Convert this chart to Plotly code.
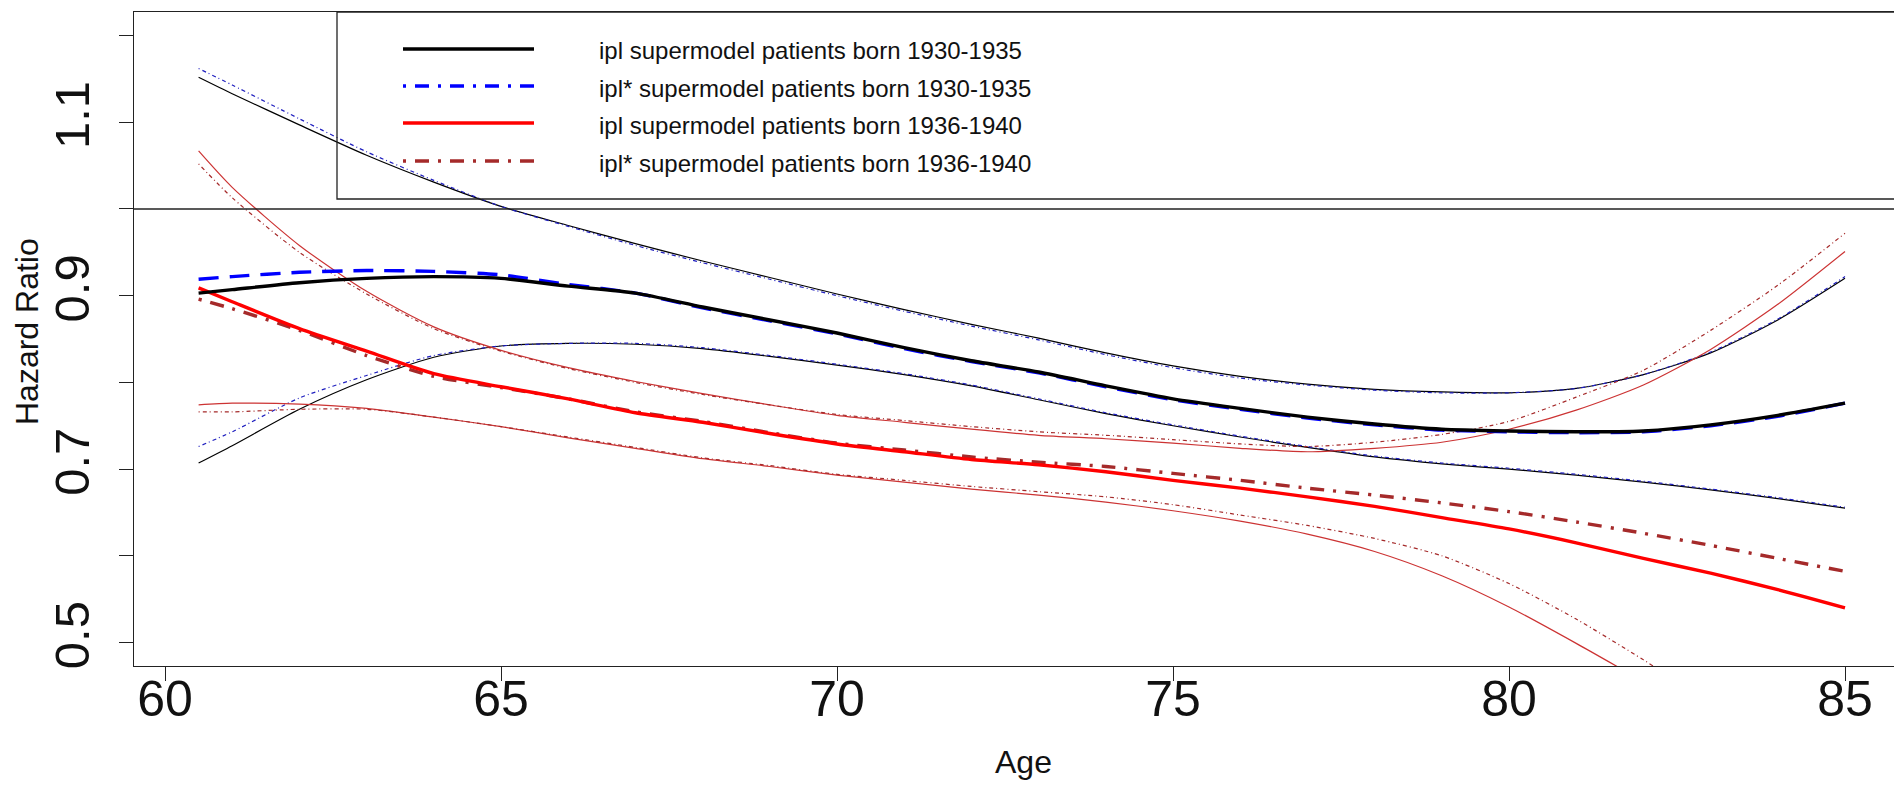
import plotly.graph_objects as go

ages = [60.5, 61, 62, 63, 64, 65, 66, 67, 68, 69, 70, 71, 72, 73, 74, 75, 76, 77, 78, 79, 80, 81, 82, 83, 84, 85]

# ipl supermodel, patients born 1930-1935 (estimate and CI)
ipl_30_est = [0.903, 0.907, 0.915, 0.920, 0.922, 0.920, 0.911, 0.903, 0.887, 0.872, 0.857, 0.840, 0.825, 0.812, 0.796, 0.781, 0.770, 0.760, 0.752, 0.746, 0.744, 0.743, 0.744, 0.751, 0.762, 0.776]
ipl_30_up = [1.152, 1.133, 1.097, 1.062, 1.031, 1.003, 0.981, 0.960, 0.940, 0.921, 0.902, 0.884, 0.867, 0.851, 0.834, 0.819, 0.807, 0.798, 0.792, 0.789, 0.788, 0.793, 0.809, 0.834, 0.872, 0.920]
ipl_30_lo = [0.707, 0.727, 0.769, 0.803, 0.829, 0.842, 0.845, 0.844, 0.839, 0.830, 0.820, 0.809, 0.796, 0.780, 0.764, 0.750, 0.737, 0.725, 0.714, 0.706, 0.700, 0.693, 0.685, 0.676, 0.666, 0.655]

# ipl* supermodel, patients born 1930-1935
iplS_30_est = [0.919, 0.922, 0.927, 0.929, 0.928, 0.924, 0.913, 0.903, 0.886, 0.871, 0.856, 0.839, 0.824, 0.811, 0.795, 0.780, 0.769, 0.759, 0.751, 0.745, 0.743, 0.742, 0.743, 0.750, 0.761, 0.776]
iplS_30_up = [1.162, 1.143, 1.104, 1.066, 1.033, 1.003, 0.980, 0.958, 0.938, 0.919, 0.900, 0.882, 0.865, 0.849, 0.832, 0.817, 0.805, 0.797, 0.791, 0.788, 0.788, 0.793, 0.809, 0.835, 0.873, 0.922]
iplS_30_lo = [0.726, 0.743, 0.782, 0.808, 0.831, 0.842, 0.845, 0.845, 0.840, 0.831, 0.821, 0.810, 0.797, 0.781, 0.765, 0.751, 0.738, 0.726, 0.715, 0.707, 0.701, 0.694, 0.686, 0.677, 0.667, 0.656]

# ipl supermodel, patients born 1936-1940
ipl_36_est = [0.909, 0.893, 0.862, 0.836, 0.810, 0.795, 0.781, 0.765, 0.754, 0.741, 0.729, 0.720, 0.711, 0.705, 0.697, 0.687, 0.678, 0.668, 0.657, 0.644, 0.631, 0.615, 0.597, 0.580, 0.561, 0.540]
ipl_36_up = [1.067, 1.025, 0.958, 0.905, 0.864, 0.837, 0.817, 0.801, 0.787, 0.774, 0.762, 0.754, 0.746, 0.739, 0.735, 0.730, 0.724, 0.720, 0.724, 0.731, 0.746, 0.768, 0.797, 0.838, 0.890, 0.951]
ipl_36_lo = [0.774, 0.776, 0.775, 0.770, 0.760, 0.749, 0.736, 0.724, 0.712, 0.703, 0.693, 0.685, 0.677, 0.670, 0.662, 0.652, 0.640, 0.625, 0.605, 0.577, 0.541, 0.499, 0.455]

# ipl* supermodel, patients born 1936-1940
iplS_36_est = [0.896, 0.885, 0.860, 0.831, 0.807, 0.794, 0.781, 0.766, 0.755, 0.742, 0.730, 0.722, 0.714, 0.708, 0.703, 0.695, 0.687, 0.678, 0.670, 0.661, 0.651, 0.639, 0.626, 0.612, 0.597, 0.582]
iplS_36_up = [1.052, 1.013, 0.950, 0.902, 0.862, 0.836, 0.816, 0.800, 0.786, 0.774, 0.763, 0.756, 0.749, 0.743, 0.739, 0.734, 0.729, 0.726, 0.731, 0.740, 0.755, 0.783, 0.814, 0.860, 0.912, 0.972]
iplS_36_lo = [0.766, 0.766, 0.769, 0.769, 0.760, 0.749, 0.737, 0.725, 0.713, 0.704, 0.694, 0.687, 0.680, 0.674, 0.668, 0.659, 0.647, 0.635, 0.620, 0.600, 0.568, 0.527, 0.480, 0.430]

legend_labels = [
    "ipl supermodel patients born 1930-1935",
    "ipl* supermodel patients born 1930-1935",
    "ipl supermodel patients born 1936-1940",
    "ipl* supermodel patients born 1936-1940",
]

x_ticks = [60, 65, 70, 75, 80, 85]
y_ticks = [0.5, 0.6, 0.7, 0.8, 0.9, 1.0, 1.1, 1.2]
y_ticktext = ["0.5", "", "0.7", "", "0.9", "", "1.1", ""]

FONT = "Liberation Sans, Arial, Helvetica, sans-serif"
BLACK = "#000000"
BLUE = "#0000FF"
BLUE_THIN = "#1f1fbf"
RED = "#FF0000"
RED_THIN = "#cc3333"
BROWN = "#A52A2A"

DOTDASH_THICK = "3px,9px,14px,9px"
DOTDASH_THIN = "1px,3px,4px,3px"
DASH_THICK = "20px,11px"

fig = go.Figure()


def add(y, color, width, dash, name):
    fig.add_trace(go.Scatter(
        x=ages[:len(y)], y=y, mode="lines", name=name, showlegend=False,
        line=dict(color=color, width=width, dash=dash, shape="spline", smoothing=0.7),
        hoverinfo="x+y+name",
    ))


# confidence bands (thin)
add(ipl_30_up, BLACK, 1.2, "solid", legend_labels[0] + " (upper)")
add(ipl_30_lo, BLACK, 1.2, "solid", legend_labels[0] + " (lower)")
add(iplS_30_up, BLUE_THIN, 1.2, DOTDASH_THIN, legend_labels[1] + " (upper)")
add(iplS_30_lo, BLUE_THIN, 1.2, DOTDASH_THIN, legend_labels[1] + " (lower)")
add(ipl_36_up, RED_THIN, 1.2, "solid", legend_labels[2] + " (upper)")
add(ipl_36_lo, RED_THIN, 1.2, "solid", legend_labels[2] + " (lower)")
add(iplS_36_up, BROWN, 1.2, DOTDASH_THIN, legend_labels[3] + " (upper)")
add(iplS_36_lo, BROWN, 1.2, DOTDASH_THIN, legend_labels[3] + " (lower)")

# estimates (thick)
add(iplS_36_est, BROWN, 3.4, DOTDASH_THICK, legend_labels[3])
add(ipl_36_est, RED, 3.4, "solid", legend_labels[2])
add(iplS_30_est, BLUE, 3.4, DASH_THICK, legend_labels[1])
add(ipl_30_est, BLACK, 3.4, "solid", legend_labels[0])

# reference line at HR = 1
fig.add_shape(type="line", xref="paper", yref="y", x0=0, x1=1, y0=1.0, y1=1.0,
              line=dict(color="#222222", width=1.3), layer="above")

# page geometry (the page body adds an 8px offset)
OFF = 8
W, H = 1902 - OFF, 785 - OFF
PL, PR, PT, PB = 134, 1902, 12, 666          # plot area in page pixels
L, T = PL - OFF, PT - OFF
R = 0
B = H - (PB - OFF)
pw, ph = PR - PL, PB - PT


def px(xp):
    return (xp - PL) / pw


def py(yp):
    return (PB - yp) / ph


# legend box (drawn like base-R legend)
fig.add_shape(type="rect", xref="paper", yref="paper",
              x0=px(337), x1=1.05, y0=py(199), y1=py(12),
              line=dict(color="#222222", width=1.3), fillcolor="rgba(0,0,0,0)", layer="above")

leg_styles = [(BLACK, "solid"), (BLUE, DOTDASH_THICK), (RED, "solid"), (BROWN, DOTDASH_THICK)]
leg_rows = [49, 86, 123, 161]
for (col, dash), yr, lab in zip(leg_styles, leg_rows, legend_labels):
    fig.add_shape(type="line", xref="paper", yref="paper",
                  x0=px(403), x1=px(534), y0=py(yr), y1=py(yr),
                  line=dict(color=col, width=3.4, dash=dash), layer="above")
    fig.add_annotation(x=px(597), y=py(yr + 2), xref="paper", yref="paper",
                       text=lab, showarrow=False, xanchor="left", yanchor="middle",
                       font=dict(family=FONT, size=24, color="#111111"))

# axis titles
fig.add_annotation(x=px(1023), y=py(762), xref="paper", yref="paper", text="Age",
                   showarrow=False, xanchor="center", yanchor="middle",
                   font=dict(family=FONT, size=32, color="#111111"))
fig.add_annotation(x=px(27), y=py(332), xref="paper", yref="paper", text="Hazard Ratio",
                   showarrow=False, xanchor="center", yanchor="middle", textangle=-90,
                   font=dict(family=FONT, size=32, color="#111111"))

x_lo = 60 + (PL - 165) / 67.2
x_hi = 60 + (PR - 165) / 67.2

fig.update_layout(
    width=W, height=H,
    margin=dict(l=L, r=R, t=T, b=B, pad=0),
    paper_bgcolor="white", plot_bgcolor="white",
    showlegend=False,
    font=dict(family=FONT, color="#111111"),
    xaxis=dict(
        range=[x_lo, x_hi], tickvals=x_ticks, ticktext=[str(v) for v in x_ticks],
        showgrid=False, zeroline=False, showline=True, mirror=True,
        linecolor="#222222", linewidth=1.3,
        ticks="outside", ticklen=14, tickwidth=1.3, tickcolor="#222222",
        tickfont=dict(family=FONT, size=50, color="#111111"),
        ticklabelstandoff=-25,
        automargin=False,
    ),
    yaxis=dict(
        range=[0.4729, 1.2272], tickvals=y_ticks, ticktext=y_ticktext, tickangle=-90,
        showgrid=False, zeroline=False, showline=True, mirror=False,
        linecolor="#222222", linewidth=1.3,
        ticks="outside", ticklen=14, tickwidth=1.3, tickcolor="#222222",
        tickfont=dict(family=FONT, size=49, color="#111111"),
        ticklabelstandoff=10,
        automargin=False,
    ),
)

fig.write_html("out.html")
